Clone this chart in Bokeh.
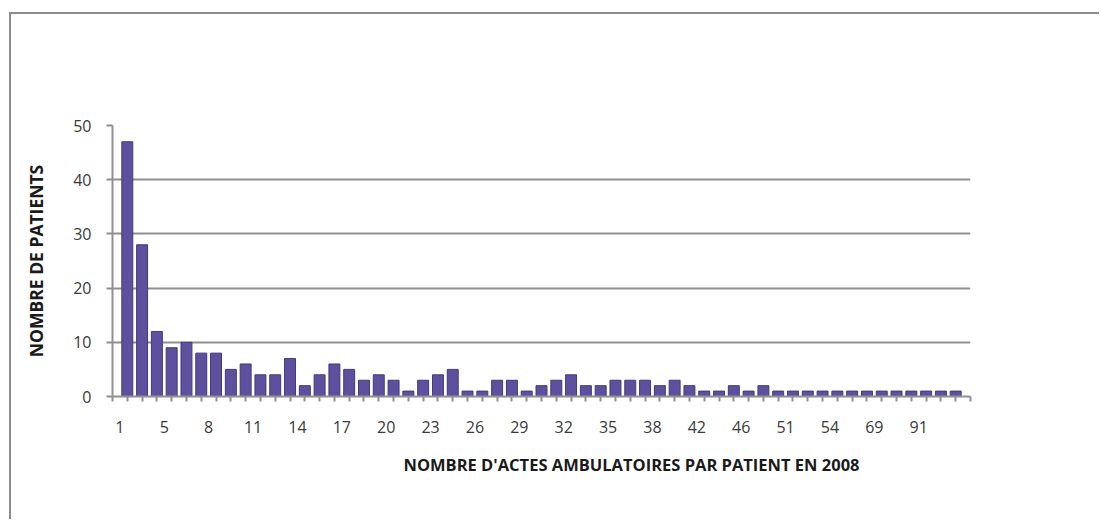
from bokeh.plotting import figure
from bokeh.models import Range1d, FixedTicker, Title, ColumnDataSource
from bokeh.embed import file_html
from bokeh.resources import INLINE

# Data
nb_actes = ["1", "2", "3"] + [str(v) for v in range(5, 39)] + [
    "39", "40", "42", "43", "44", "46", "47", "49", "51", "52", "53",
    "54", "58", "62", "69", "75", "84", "91", "103", "125"]
nb_patients = [47, 28, 12, 9, 10, 8, 8, 5, 6, 4,
               4, 7, 2, 4, 6, 5, 3, 4, 3, 1,
               3, 4, 5, 1, 1, 3, 3, 1, 2, 3,
               4, 2, 2, 3, 3, 3, 2, 3, 2, 1,
               1, 2, 1, 2, 1, 1, 1, 1, 1, 1,
               1, 1, 1, 1, 1, 1, 1]
y_ticks = [0, 10, 20, 30, 40, 50]
x_title = "NOMBRE D'ACTES AMBULATOIRES PAR PATIENT EN 2008"
y_title = "NOMBRE DE PATIENTS"

n = len(nb_actes)
pos = [i + 0.5 for i in range(n)]
src = ColumnDataSource(dict(x=pos, top=nb_patients, cat=nb_actes))

FONT = "Open Sans"
GRID = "#8f8f8f"
W, H = 1090, 507

p = figure(width=W, height=H, output_backend="svg", toolbar_location=None,
           x_range=Range1d(-0.5, n + 0.5), y_range=Range1d(0, 50),
           min_border_left=101, min_border_right=131,
           min_border_top=111, min_border_bottom=125)
p.styles = {"margin-left": "9px", "margin-top": "12px",
            "border-left": "2px solid #8c8c8c", "border-top": "2px solid #8c8c8c"}
p.outline_line_color = None
p.background_fill_color = "white"
p.border_fill_color = "white"

p.vbar(x="x", top="top", width=0.74, bottom=0, source=src,
       fill_color="#5e509f", line_color="#43397a", line_width=1)

# y axis
p.yaxis.ticker = FixedTicker(ticks=y_ticks)
p.yaxis.axis_line_color = GRID
p.yaxis.axis_line_width = 2
p.yaxis.major_tick_line_color = GRID
p.yaxis.major_tick_line_width = 2
p.yaxis.major_tick_out = 6
p.yaxis.major_tick_in = 0
p.yaxis.minor_tick_line_color = None
p.yaxis.major_label_text_font = FONT
p.yaxis.major_label_text_font_size = "16px"
p.yaxis.major_label_text_color = "#3a3a3a"
p.yaxis.major_label_standoff = 15
p.yaxis.axis_label = y_title
p.yaxis.axis_label_text_font = FONT
p.yaxis.axis_label_text_font_size = "17.5px"
p.yaxis.axis_label_text_font_style = "bold"
p.yaxis.axis_label_text_color = "#1a1a1a"
p.yaxis.axis_label_standoff = 22

# x axis
label_idx = list(range(0, n, 3))
p.xaxis.ticker = FixedTicker(ticks=label_idx, minor_ticks=[i - 0.5 for i in range(n + 2)])
p.xaxis.major_label_overrides = {i: nb_actes[i] for i in label_idx}
p.xaxis.axis_line_color = GRID
p.xaxis.axis_line_width = 2
p.xaxis.major_tick_line_color = None
p.xaxis.minor_tick_line_color = GRID
p.xaxis.minor_tick_line_width = 2
p.xaxis.minor_tick_out = 5
p.xaxis.minor_tick_in = 0
p.xaxis.major_label_text_font = FONT
p.xaxis.major_label_text_font_size = "16px"
p.xaxis.major_label_text_color = "#3a3a3a"
p.xaxis.major_label_standoff = 18

p.xgrid.grid_line_color = None
p.ygrid.ticker = FixedTicker(ticks=y_ticks)
p.ygrid.grid_line_color = GRID
p.ygrid.grid_line_width = 2

p.add_layout(Title(text=x_title, align="left", offset=291, standoff=30,
                   text_font=FONT, text_font_size="16.5px",
                   text_font_style="bold", text_color="#1a1a1a"), "below")

open("out.html", "w").write(file_html(p, INLINE))
